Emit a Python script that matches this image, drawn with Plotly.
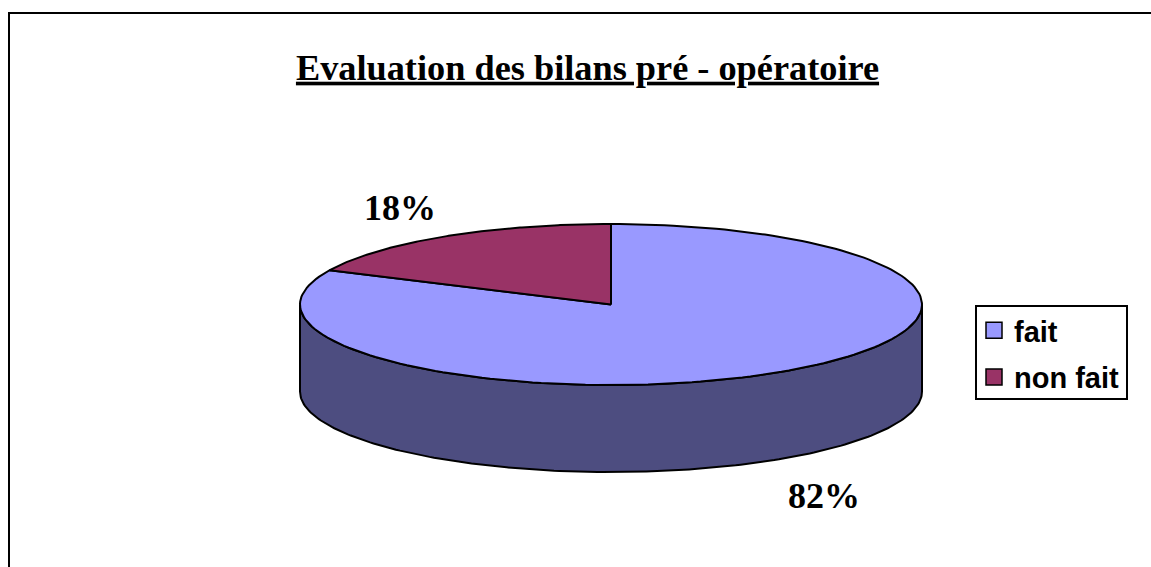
import numpy as np
import plotly.graph_objects as go

title = "Evaluation des bilans pré - opératoire"
categories = ["fait", "non fait"]
values = [82, 18]
colors = ["#9999FF", "#993366"]
side_color = "#4D4D80"

W, H = 1151, 567
cx, cy, rx, ry, depth = 611, 304.5, 311, 80.5, 87


def rim(a0, a1, n=180):
    t = np.radians(np.linspace(a0, a1, n))
    return cx + rx * np.sin(t), cy - ry * np.cos(t)


fig = go.Figure()

# front wall of the disc
xf, yf = rim(90, 270)
fig.add_trace(go.Scatter(
    x=np.concatenate([xf, xf[::-1], xf[:1]]),
    y=np.concatenate([yf, yf[::-1] + depth, yf[:1]]),
    mode="lines", fill="toself", fillcolor=side_color,
    line=dict(color="black", width=2), showlegend=False, hoverinfo="skip"))

# top slices, clockwise from twelve o'clock
start = 0.0
for name, v, c in zip(categories, values, colors):
    end = start + 360.0 * v / sum(values)
    xs, ys = rim(start, end)
    fig.add_trace(go.Scatter(
        x=np.concatenate([[cx], xs, [cx]]),
        y=np.concatenate([[cy], ys, [cy]]),
        mode="lines", fill="toself", fillcolor=c,
        line=dict(color="black", width=2), showlegend=False,
        name=name, hoverinfo="name"))
    start = end

# legend entries
for name, c in zip(categories, colors):
    fig.add_trace(go.Scatter(
        x=[None], y=[None], mode="markers", name=name, legendgroup=name,
        marker=dict(symbol="square", size=16, color=c,
                    line=dict(color="black", width=1.5))))

fig.add_annotation(x=400, y=208, text=f"<b>{values[1]}%</b>", showarrow=False,
                   font=dict(family="Liberation Serif", size=36, color="black"))
fig.add_annotation(x=824, y=496, text=f"<b>{values[0]}%</b>", showarrow=False,
                   font=dict(family="Liberation Serif", size=36, color="black"))

# chart frame
fig.add_shape(type="rect", x0=9, y0=13, x1=W + 20, y1=H + 20,
              line=dict(color="black", width=2), fillcolor="rgba(0,0,0,0)", layer="below")
# legend box
fig.add_shape(type="rect", x0=976, y0=306, x1=1127, y1=399,
              line=dict(color="black", width=2), fillcolor="white", layer="above")

fig.update_layout(
    width=W, height=H, autosize=False,
    margin=dict(l=0, r=0, t=0, b=0),
    paper_bgcolor="white", plot_bgcolor="white",
    title=dict(text=f"<b><u>{title}</u></b>", x=587.5 / W, xanchor="center",
               y=1 - 67 / H, yanchor="middle",
               font=dict(family="Liberation Serif", size=36.3, color="black")),
    xaxis=dict(range=[0, W], visible=False, fixedrange=True),
    yaxis=dict(range=[H, 0], visible=False, fixedrange=True),
    legend=dict(x=974 / W, y=1 - 305 / H, xanchor="left", yanchor="top",
                bgcolor="rgba(0,0,0,0)", borderwidth=0,
                tracegroupgap=6,
                font=dict(family="Liberation Sans", size=29, color="black", weight="bold")),
)
fig.write_html("out.html", config={"displayModeBar": False},
               post_script="document.body.style.margin='0';")
